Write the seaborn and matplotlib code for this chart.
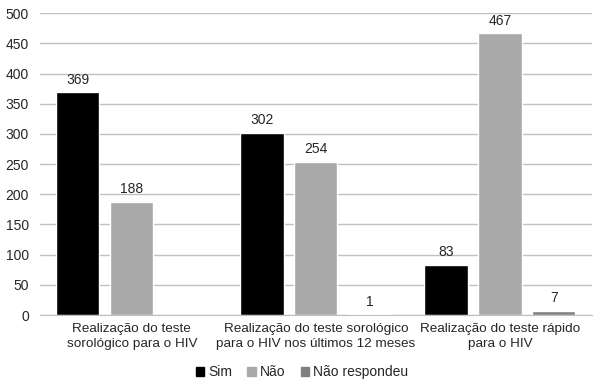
import numpy as np
import pandas as pd
import matplotlib
matplotlib.use("Agg")
import matplotlib.pyplot as plt
import seaborn as sns

# data
categories = [
    "Realização do teste\nsorológico para o HIV",
    "Realização do teste sorológico\npara o HIV nos últimos 12 meses",
    "Realização do teste rápido\npara o HIV",
]
series = ["Sim", "Não", "Não respondeu"]
sim = [369, 302, 83]
nao = [188, 254, 467]
nao_resp = [np.nan, 1, 7]

colors = {"Sim": "#000000", "Não": "#a9a9a9", "Não respondeu": "#7f7f7f"}

rows = []
for s, vals in zip(series, [sim, nao, nao_resp]):
    for c, v in zip(categories, vals):
        rows.append({"Categoria": c, "Resposta": s, "Valor": v})
df = pd.DataFrame(rows)

sns.set_style("white")
plt.rcParams["font.family"] = ["Liberation Sans", "DejaVu Sans"]
plt.rcParams["font.size"] = 10

fig = plt.figure(figsize=(6.04, 3.88), dpi=100)
ax = fig.add_axes([0.066, 0.188, 0.914, 0.778])

sns.barplot(
    data=df, x="Categoria", y="Valor", hue="Resposta",
    hue_order=series, order=categories, palette=colors,
    width=0.88, gap=0.2, saturation=1, ax=ax, legend=True,
)

for cont in ax.containers:
    labels = ["" if np.isnan(v) else f"{v:.0f}" for v in cont.datavalues]
    ax.bar_label(cont, labels=labels, padding=4, fontsize=10, color="#262626")

ax.set_ylim(0, 500)
ax.set_xlim(-0.5, 2.5)
ax.set_yticks(range(0, 501, 50))
ax.yaxis.grid(True, color="#c0c0c0", linewidth=1)
ax.set_axisbelow(True)
for side in ["left", "right", "top"]:
    ax.spines[side].set_visible(False)
ax.spines["bottom"].set_color("#bfbfbf")
ax.tick_params(axis="both", length=0, labelsize=10, colors="#262626")
ax.tick_params(axis="x", pad=6, labelsize=9.7)
ax.tick_params(axis="y", pad=8)
for lbl in ax.get_xticklabels():
    lbl.set_linespacing(1.25)
ax.set_xlabel("")
ax.set_ylabel("")

ax.legend_.remove()
handles = [plt.Rectangle((0, 0), 1, 1, color=colors[s]) for s in series]
fig.legend(handles, series, loc="lower center", bbox_to_anchor=(0.5, -0.01),
           ncol=3, frameon=False, fontsize=10, handlelength=0.6, handleheight=0.6,
           handletextpad=0.3, columnspacing=1.1)

fig.savefig("out.png", dpi=100)
